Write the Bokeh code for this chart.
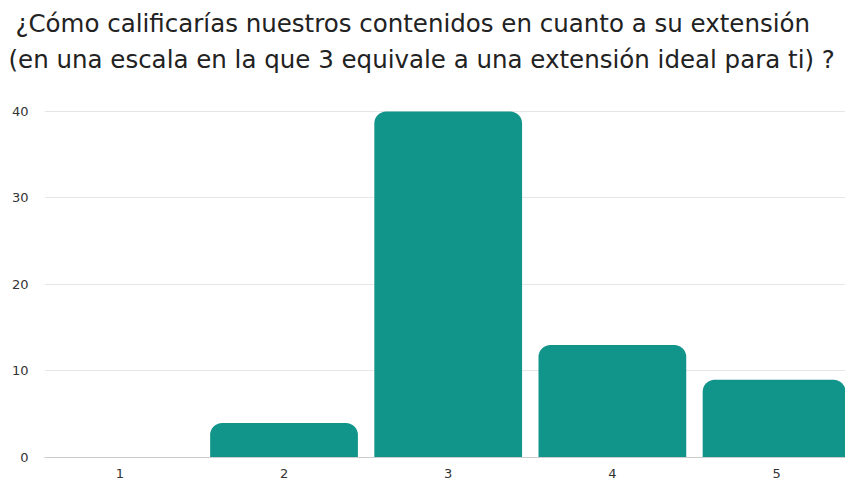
from bokeh.plotting import figure
from bokeh.models import Title, Range1d, FixedTicker, ColumnDataSource
from bokeh.embed import file_html
from bokeh.resources import INLINE

categories = ["1", "2", "3", "4", "5"]
positions = [1, 2, 3, 4, 5]
counts = [0, 4, 40, 13, 9]
y_ticks = [0, 10, 20, 30, 40]
title_line1 = "¿Cómo calificarías nuestros contenidos en cuanto a su extensión"
title_line2 = "(en una escala en la que 3 equivale a una extensión ideal para ti) ?"

FONT = "DejaVu Sans"
BAR = "#11948a"

src = ColumnDataSource(dict(x=positions, top=counts))

p = figure(width=845, height=480, output_backend="svg", toolbar_location=None,
           x_range=Range1d(0.541, 5.42), y_range=Range1d(0, 41.5),
           min_border_left=44, min_border_right=0, min_border_bottom=20,
           min_border_top=98, outline_line_color=None)
p.title = None

p.vbar(x="x", top="top", width=0.9, source=src, fill_color=BAR, line_color=None,
       border_radius=(12, 12, 0, 0))

# blank spacer closest to the plot frame
p.add_layout(Title(text=" ", text_font=FONT, text_font_size="14px", standoff=4), "above")
p.add_layout(Title(text=title_line2, text_font=FONT, text_font_size="24.5px",
                   text_font_style="normal", text_color="#222222", align="left",
                   offset=-36, standoff=6), "above")
p.add_layout(Title(text=title_line1, text_font=FONT, text_font_size="24.5px",
                   text_font_style="normal", text_color="#222222", align="left",
                   offset=-29, standoff=4), "above")

p.xaxis.ticker = FixedTicker(ticks=positions)
p.xaxis.major_label_overrides = {pos: c for pos, c in zip(positions, categories)}
p.xaxis.axis_line_color = "#cccccc"
p.xaxis.major_tick_line_color = None
p.xaxis.minor_tick_line_color = None
p.xaxis.major_label_text_font = FONT
p.xaxis.major_label_text_font_size = "13px"
p.xaxis.major_label_text_color = "#333333"
p.xaxis.major_label_standoff = 5

p.yaxis.ticker = FixedTicker(ticks=y_ticks)
p.yaxis.axis_line_color = None
p.yaxis.major_tick_line_color = None
p.yaxis.minor_tick_line_color = None
p.yaxis.major_label_text_font = FONT
p.yaxis.major_label_text_font_size = "13px"
p.yaxis.major_label_text_color = "#333333"
p.yaxis.major_label_standoff = 10

p.xgrid.grid_line_color = None
p.ygrid.grid_line_color = "#e6e6e6"
p.ygrid.ticker = FixedTicker(ticks=y_ticks)

open("out.html", "w").write(file_html(p, INLINE))
